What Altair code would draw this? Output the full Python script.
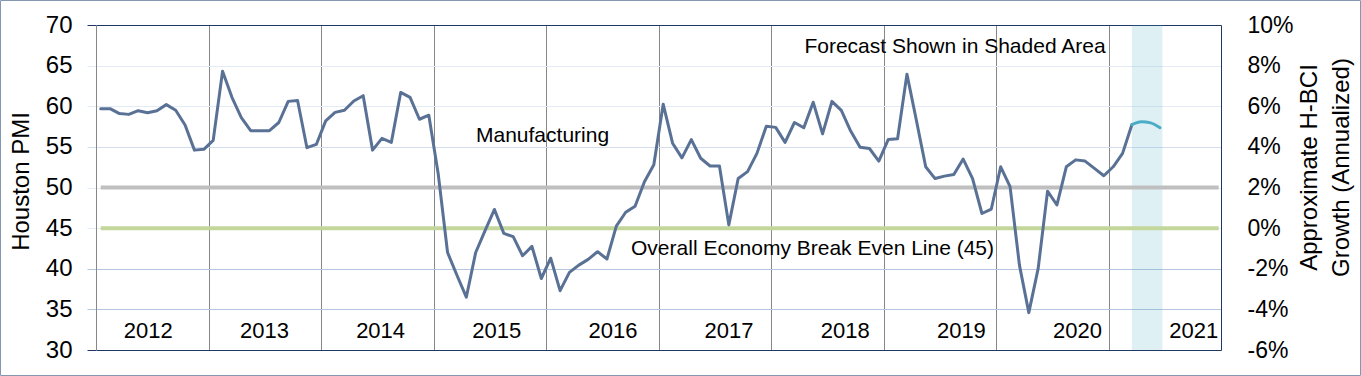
import altair as alt
import pandas as pd

# ---- data ----
years = [str(y) for y in range(2012, 2022)]

# Houston PMI, monthly Jan 2012 .. Mar 2021
pmi = [
    59.7, 59.7, 59.1, 59.0, 59.45, 59.2, 59.45, 60.2, 59.5, 57.7, 54.6, 54.7,      # 2012
    55.8, 64.3, 61.1, 58.6, 57.0, 57.0, 57.0, 58.0, 60.6, 60.7, 54.9, 55.3,        # 2013
    58.2, 59.25, 59.5, 60.65, 61.3, 54.6, 56.05, 55.55, 61.7, 61.1, 58.4, 58.9,    # 2014
    51.7, 42.0, 39.2, 36.5, 42.0, 44.7, 47.3, 44.35, 43.95, 41.6, 42.75, 38.8,     # 2015
    41.3, 37.3, 39.55, 40.45, 41.15, 42.1, 41.2, 45.25, 46.95, 47.7, 50.7, 52.8,   # 2016
    60.25, 55.45, 53.65, 55.9, 53.6, 52.65, 52.65, 45.4, 51.1, 51.95, 54.2, 57.55, # 2017
    57.4, 55.55, 58.0, 57.35, 60.5, 56.6, 60.6, 59.5, 56.95, 54.95, 54.8, 53.25,   # 2018
    55.9, 56.0, 63.95, 58.3, 52.55, 51.1, 51.4, 51.6, 53.5, 51.1, 46.8, 47.35,     # 2019
    52.55, 50.1, 40.45, 34.6, 40.05, 49.55, 47.85, 52.55, 53.4, 53.25, 52.35, 51.45,  # 2020
    52.55, 54.2, 57.75,                                                            # 2021
]
# forecast, Mar 2021 (joint) .. Jun 2021
forecast = [57.75, 58.1, 57.95, 57.35]

pmi_ticks = [30, 35, 40, 45, 50, 55, 60, 65, 70]
growth_ticks = [-6, -4, -2, 0, 2, 4, 6, 8, 10]
break_even_manufacturing = [50]
break_even_overall = [45]

txt_manufacturing = "Manufacturing"
txt_overall = "Overall Economy Break Even Line (45)"
txt_forecast = "Forecast Shown in Shaded Area"
left_title = "Houston PMI"
right_title = ["Approximate H-BCI", "Growth (Annualized)"]

# ---- tables ----
n_months = len(years) * 12
df_main = pd.DataFrame({"m": [i + 0.5 for i in range(len(pmi))], "v": pmi})
f0 = len(pmi) - 1
df_fc = pd.DataFrame({"m": [f0 + i + 0.5 for i in range(len(forecast))], "v": forecast})
df_years = pd.DataFrame({"year": years})
dummy = pd.DataFrame({"a": [0]})

NAVY = "#1f3864"
LINE = "#5a7196"
FC = "#4bacc6"
FONT = "Liberation Sans"

grid_color = {
    "condition": [
        {"test": "datum.value <= 30 || datum.value >= 70", "value": NAVY},
        {"test": "datum.value <= 40", "value": "#b4c6e0"},
        {"test": "datum.value == 55", "value": "#d2deee"},
    ],
    "value": "#e3ebf5",
}

xscale = alt.Scale(domain=[0, n_months], nice=False, zero=False)
yscale = alt.Scale(domain=[30, 70], nice=False, zero=False)

x_enc = alt.X(
    "m:Q", scale=xscale, title=None,
    axis=alt.Axis(values=list(range(12, n_months, 12)), grid=True, gridColor="#878787",
                  gridWidth=1, labels=False, ticks=False, domain=False),
)
y_enc = alt.Y(
    "v:Q", scale=yscale,
    axis=alt.Axis(values=pmi_ticks, grid=True, gridColor=grid_color, tickColor=grid_color,
                  tickSize=9, labelFontSize=24, labelPadding=15, labelColor="#000000",
                  domainColor="#878787", title=left_title, titleFontSize=24,
                  titleFontWeight="normal", titleColor="#000000", titleAngle=270,
                  titleX=-75, titleY=156, titleAlign="center", titleBaseline="middle"),
)

shade = alt.Chart(dummy).mark_rect(color=FC, opacity=0.18).encode(
    x=alt.XDatum(f0 + 0.5, scale=xscale),
    x2=alt.X2Datum(f0 + len(forecast) - 1 + 0.75),
    y=alt.YDatum(30, scale=yscale),
    y2=alt.Y2Datum(70),
)

rule50 = alt.Chart(pd.DataFrame({"v": break_even_manufacturing})).mark_rule(
    color="#bfbfbf", strokeWidth=4).encode(
    x=alt.XDatum(0.5, scale=xscale), x2=alt.X2Datum(n_months - 0.25), y=y_enc)
rule45 = alt.Chart(pd.DataFrame({"v": break_even_overall})).mark_rule(
    color="#c3d69b", strokeWidth=4).encode(
    x=alt.XDatum(0.5, scale=xscale), x2=alt.X2Datum(n_months - 0.25), y="v:Q")

main_line = alt.Chart(df_main).mark_line(
    color=LINE, strokeWidth=3, strokeJoin="round", strokeCap="round").encode(x=x_enc, y="v:Q")
fc_line = alt.Chart(df_fc).mark_line(
    color=FC, strokeWidth=3, interpolate="monotone", strokeCap="round").encode(x="m:Q", y="v:Q")

def note(text, xm, yv):
    return alt.Chart(dummy).mark_text(
        text=text, font=FONT, fontSize=21, color="#000000", align="center", baseline="middle"
    ).encode(x=alt.XDatum(xm, scale=xscale), y=alt.YDatum(yv, scale=yscale))

notes = [note(txt_manufacturing, 47.63, 56.3), note(txt_overall, 76.43, 42.43),
         note(txt_forecast, 91.63, 67.33)]

border = alt.Chart(dummy).mark_rect(
    filled=False, stroke="#8497b0", strokeWidth=1, clip=False).encode(
    x=alt.value(-95.5), x2=alt.value(1264.5), y=alt.value(-24.5), y2=alt.value(350.5))

main = alt.layer(shade, rule50, rule45, main_line, fc_line, *notes, border)

year_labels = alt.Chart(df_years).mark_text(
    font=FONT, fontSize=22, color="#000000", align="center", baseline="middle").encode(
    x=alt.X("year:O", scale=alt.Scale(type="point", padding=0.3426, align=0.657), axis=None),
    y=alt.YDatum(32.34, scale=alt.Scale(domain=[30, 70], nice=False, zero=False), axis=None),
    text="year:N",
)

right_axis = alt.Chart(dummy).mark_point(opacity=0).encode(
    y=alt.YDatum(0, type="quantitative",
                 scale=alt.Scale(domain=[growth_ticks[0], growth_ticks[-1]], nice=False, zero=False),
                 axis=alt.Axis(orient="right", values=growth_ticks, labelExpr="datum.value + '%'",
                               grid=False, ticks=False, domainColor=NAVY, labelFontSize=23,
                               labelPadding=26, labelColor="#000000", title=right_title,
                               titleFontSize=24, titleFontWeight="normal", titleColor="#000000",
                               titleAngle=270, titleX=88, titleY=142, titleAlign="center",
                               titleBaseline="middle", titleLineHeight=32)),
)

chart = alt.layer(main, year_labels, right_axis).resolve_scale(
    x="independent", y="independent"
).properties(
    width=1125, height=325,
    padding={"left": 96, "top": 25, "right": 140, "bottom": 26},
    autosize=alt.AutoSizeParams(type="none"),
    background="#ffffff",
).configure_view(stroke="transparent").configure_axis(
    labelFont=FONT, titleFont=FONT
).configure_text(font=FONT)

chart.save("out.html", embed_options={"renderer": "svg", "actions": False})
